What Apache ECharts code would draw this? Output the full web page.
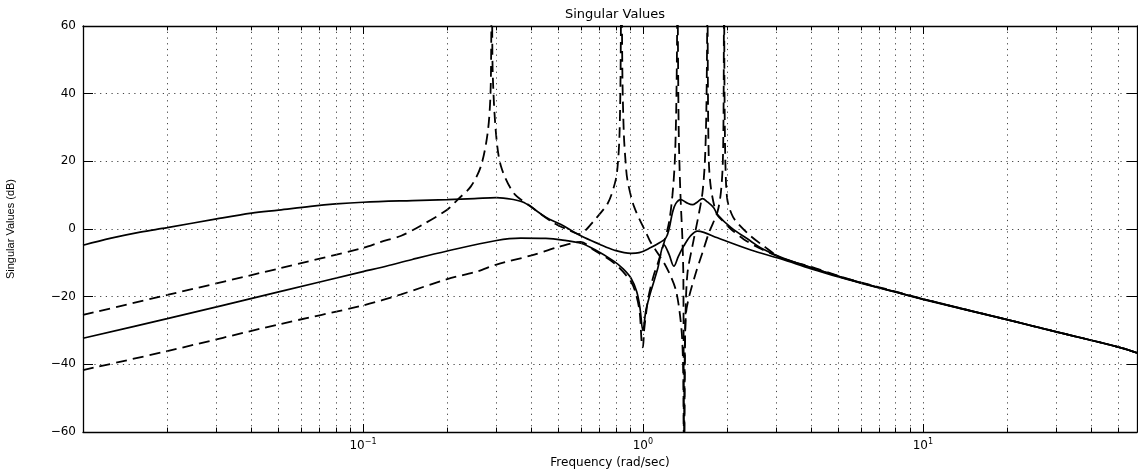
<!DOCTYPE html>
<html>
<head>
<meta charset="utf-8">
<script src="https://cdn.jsdelivr.net/npm/echarts@6/dist/echarts.min.js"></script>
<style>
  html, body { margin: 0; padding: 0; background: #fff; }
  #chart { width: 1138px; height: 472px; }
</style>
</head>
<body>
<div id="chart"></div>
<script>
// upper solid singular value
var freqSolidHi = [0.01, 0.0126, 0.016, 0.02, 0.03, 0.04, 0.05, 0.065, 0.08, 0.1, 0.15, 0.2, 0.25, 0.3, 0.34, 0.376, 0.45, 0.51, 0.6, 0.7, 0.787, 0.906, 0.97, 1.067, 1.15, 1.207, 1.24, 1.275, 1.31, 1.365, 1.43, 1.503, 1.566, 1.632, 1.7, 1.79, 1.846, 2.06, 2.43, 2.64, 3.1, 4, 5, 6, 8, 10, 20, 30, 50, 58.2];
var dbSolidHi   = [-4.8, -2.7, -0.9, 0.4, 3.0, 4.7, 5.6, 6.7, 7.4, 7.9, 8.4, 8.7, 9.0, 9.3, 8.8, 7.8, 3.5, 1.3, -2.0, -4.5, -6.2, -7.2, -7.0, -5.5, -4.0, -2.7, 0, 4.8, 7.5, 8.7, 7.8, 7.2, 8.0, 9.0, 8.0, 6.3, 4.3, 0.5, -3.6, -5.6, -8.3, -11.5, -14.0, -15.9, -18.6, -20.7, -26.8, -30.4, -34.9, -36.6];

// lower solid singular value
var freqSolidLo = [0.01, 0.02, 0.05, 0.1, 0.117, 0.15, 0.2, 0.3, 0.366, 0.45, 0.51, 0.6, 0.67, 0.787, 0.85, 0.906, 0.95, 0.975, 1.0, 1.025, 1.047, 1.067, 1.127, 1.19, 1.24, 1.29, 1.34, 1.4, 1.48, 1.566, 1.65, 1.846, 2.43, 3.1, 4, 5, 6, 8, 10, 20, 30, 50, 58.2];
var dbSolidLo   = [-32.3, -26.5, -18.6, -12.6, -11.3, -9.0, -6.5, -3.4, -2.7, -2.8, -3.2, -4.2, -6.0, -9.5, -11.8, -14.5, -18.5, -23, -30, -24, -21, -18.5, -12, -4.7, -7.5, -11, -8, -5, -2, -0.6, -1.0, -2.6, -6.2, -8.8, -11.8, -14.2, -16.0, -18.7, -20.8, -26.8, -30.4, -34.9, -36.6];

// dashed curve starting higher on the left
var freqDashA = [0.01, 0.02, 0.05, 0.1, 0.116, 0.137, 0.161, 0.2, 0.218, 0.243, 0.264, 0.279, 0.2855, 0.2875, 0.2885, 0.2895, 0.291, 0.2985, 0.311, 0.345, 0.397, 0.48, 0.55, 0.59, 0.62, 0.66, 0.75, 0.8, 0.815, 0.825, 0.832, 0.838, 0.845, 0.855, 0.867, 0.88, 0.93, 1.04, 1.067, 1.127, 1.19, 1.258, 1.311, 1.35, 1.38, 1.395, 1.402, 1.41, 1.42, 1.443, 1.503, 1.587, 1.632, 1.665, 1.685, 1.697, 1.701, 1.706, 1.72, 1.747, 1.8, 1.85, 1.95, 2.06, 2.29, 2.6, 3.1, 4, 5, 6, 8, 10, 20, 30, 50, 58.2];
var dbDashA   = [-25.4, -19.5, -11.7, -5.6, -3.8, -2.0, 1.0, 5.7, 8.7, 12.6, 18.6, 28.5, 40, 60, 80, 60, 45, 28.5, 18.6, 10.7, 6.7, 1.8, -0.5, -1.5, -0.6, 1.9, 7.7, 14.6, 20, 28, 45, 80, 45, 28, 20, 14.6, 6.6, -2.1, -4.0, -7.0, -10.0, -14.0, -18.0, -24, -32, -45, -80, -45, -25, -13, -5, 4.8, 10.7, 20, 35, 60, 80, 45, 20, 12.5, 6.7, 4.0, 2.0, 0.0, -3.0, -5.6, -8.4, -11.4, -14.0, -15.9, -18.6, -20.7, -26.8, -30.4, -34.9, -36.6];

// dashed curve starting lower on the left
var freqDashB = [0.01, 0.02, 0.05, 0.1, 0.137, 0.2, 0.257, 0.3, 0.4, 0.5, 0.6, 0.67, 0.787, 0.906, 0.95, 0.975, 0.99, 1.0, 1.01, 1.03, 1.047, 1.09, 1.127, 1.19, 1.24, 1.275, 1.3, 1.315, 1.324, 1.329, 1.334, 1.342, 1.352, 1.365, 1.384, 1.395, 1.402, 1.41, 1.425, 1.462, 1.545, 1.632, 1.723, 1.846, 1.9, 1.93, 1.943, 1.949, 1.955, 1.965, 1.98, 2.0, 2.03, 2.1, 2.176, 2.427, 2.708, 3.105, 4, 5, 6, 8, 10, 20, 30, 50, 58.2];
var dbDashB   = [-41.7, -36.1, -28.2, -22.6, -19.3, -14.8, -12.5, -10.5, -7.8, -5.3, -3.8, -6.3, -10.0, -15.5, -20, -25, -33.6, -35, -30, -24, -20, -14, -10.5, -4, 2, 10, 20, 35, 55, 80, 55, 30, 18, 8, -3, -15, -80, -40, -25, -20, -13, -7, -1, 5, 11, 20, 40, 80, 45, 25, 14, 9, 6.5, 3.5, 1.8, -2.1, -5.1, -8.5, -11.2, -13.9, -15.8, -18.5, -20.7, -26.8, -30.4, -34.9, -36.6];

// axis setup
var freqMin = 0.01, freqMax = 58.2;
var dbTicks = [-60, -40, -20, 0, 20, 40, 60];
var minorFreqs = [0.02, 0.03, 0.04, 0.05, 0.06, 0.07, 0.08, 0.09,
                  0.2, 0.3, 0.4, 0.5, 0.6, 0.7, 0.8, 0.9,
                  2, 3, 4, 5, 6, 7, 8, 9,
                  20, 30, 40, 50];

function pts(fs, ds) {
  return fs.map(function (f, i) { return [f, ds[i]]; });
}

var chart = echarts.init(document.getElementById('chart'), null, { renderer: 'canvas' });

var dotted = { color: '#444', width: 1, type: [1.2, 4.5] };
var lblFont = 'DejaVu Sans, Liberation Sans, sans-serif';

var minorGrid = minorFreqs.map(function (f) { return { xAxis: f }; });
var minorTicks = [];
minorFreqs.forEach(function (f) {
  minorTicks.push([{ coord: [f, dbTicks[0]] }, { coord: [f, dbTicks[0] + 1.3] }]);
  minorTicks.push([{ coord: [f, dbTicks[dbTicks.length - 1]] }, { coord: [f, dbTicks[dbTicks.length - 1] - 1.3] }]);
});

function expLabel(v) {
  var e = Math.round(Math.log(v) / Math.LN10);
  if (Math.abs(v - Math.pow(10, e)) > 1e-6 * v) return '';
  if (e === -2) return '';
  var s = e < 0 ? '\u2212' + (-e) : String(e);
  return '{b|10}{s|' + s + '}';
}

var solidStyle = { color: '#000', width: 1.7 };
var dashStyle = { color: '#000', width: 1.8, type: [11, 6] };

var option = {
  animation: false,
  backgroundColor: '#fff',
  title: {
    text: 'Singular Values',
    left: 610,
    top: 3,
    textAlign: 'center',
    textStyle: { fontFamily: lblFont, fontSize: 13, fontWeight: 'normal', color: '#000' }
  },
  grid: { left: 83, right: 1, top: 26, bottom: 40, containLabel: false, outerBoundsMode: 'none' },
  xAxis: [{
    type: 'log',
    logBase: 10,
    min: freqMin,
    max: freqMax,
    name: 'Frequency (rad/sec)',
    nameLocation: 'middle',
    nameGap: 25,
    nameTextStyle: { fontFamily: lblFont, fontSize: 12, color: '#000' },
    axisLine: { onZero: false, lineStyle: { color: '#000', width: 1.3 } },
    axisTick: { inside: true, length: 8, lineStyle: { color: '#000' } },
    axisLabel: {
      margin: 6,
      color: '#000',
      formatter: expLabel,
      rich: {
        b: { fontFamily: lblFont, fontSize: 12, color: '#000', verticalAlign: 'bottom', lineHeight: 14 },
        s: { fontFamily: lblFont, fontSize: 8, color: '#000', verticalAlign: 'top', lineHeight: 14 }
      }
    },
    splitLine: { show: true, lineStyle: dotted }
  }, {
    type: 'log',
    logBase: 10,
    min: freqMin,
    max: freqMax,
    position: 'top',
    axisLine: { onZero: false, lineStyle: { color: '#000', width: 1.3 } },
    axisTick: { inside: true, length: 8, lineStyle: { color: '#000' } },
    axisLabel: { show: false },
    splitLine: { show: false }
  }],
  yAxis: [{
    type: 'value',
    min: dbTicks[0],
    max: dbTicks[dbTicks.length - 1],
    interval: 20,
    name: 'Singular Values (dB)',
    nameLocation: 'middle',
    nameGap: 67,
    nameTextStyle: { fontFamily: 'Liberation Sans Narrow, Liberation Sans, sans-serif', fontSize: 11, color: '#000' },
    axisLine: { show: true, onZero: false, lineStyle: { color: '#000', width: 1.3 } },
    axisTick: { show: true, inside: true, length: 10, lineStyle: { color: '#000' } },
    axisLabel: {
      margin: 7,
      color: '#000',
      fontFamily: lblFont,
      fontSize: 12,
      formatter: function (v) { return String(v).replace('-', '\u2212'); }
    },
    splitLine: { show: true, lineStyle: dotted }
  }, {
    type: 'value',
    min: dbTicks[0],
    max: dbTicks[dbTicks.length - 1],
    interval: 20,
    position: 'right',
    axisLine: { show: true, onZero: false, lineStyle: { color: '#000', width: 1.3 } },
    axisTick: { show: true, inside: true, length: 10, lineStyle: { color: '#000' } },
    axisLabel: { show: false },
    splitLine: { show: false }
  }],
  series: [{
    type: 'line',
    name: 'minor grid',
    data: [],
    silent: true,
    markLine: {
      silent: true,
      symbol: 'none',
      label: { show: false },
      lineStyle: dotted,
      data: minorGrid.concat(minorTicks.map(function (p) {
        return [{ coord: p[0].coord, lineStyle: { type: 'solid', color: '#000', width: 1 } }, p[1]];
      }))
    }
  }, {
    type: 'line',
    name: 'sigma hi',
    data: pts(freqSolidHi, dbSolidHi),
    showSymbol: false,
    smooth: 0.35,
    lineStyle: solidStyle,
    z: 3
  }, {
    type: 'line',
    name: 'sigma lo',
    data: pts(freqSolidLo, dbSolidLo),
    showSymbol: false,
    smooth: 0.35,
    lineStyle: solidStyle,
    z: 3
  }, {
    type: 'line',
    name: 'dash A',
    data: pts(freqDashA, dbDashA),
    showSymbol: false,
    smooth: 0.3,
    lineStyle: dashStyle,
    z: 4
  }, {
    type: 'line',
    name: 'dash B',
    data: pts(freqDashB, dbDashB),
    showSymbol: false,
    smooth: 0.3,
    lineStyle: dashStyle,
    z: 4
  }]
};

chart.setOption(option);
</script>
</body>
</html>
